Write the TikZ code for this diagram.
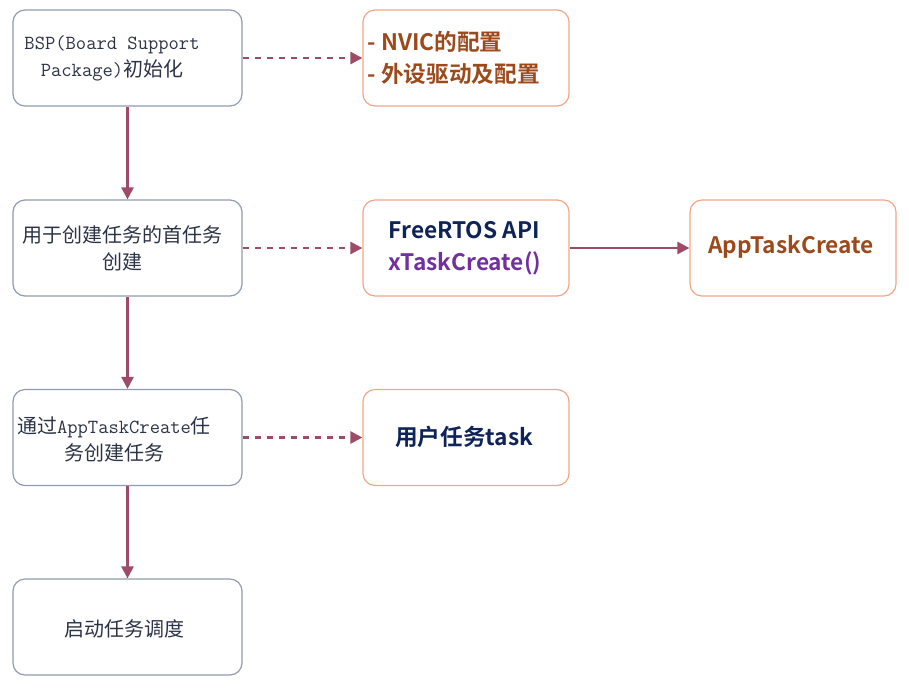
\documentclass[tikz,border=0pt]{standalone}
\usepackage{fontspec}
\newfontfamily\cjk{Noto Sans CJK SC}
\newfontfamily\cjkb{Noto Sans CJK SC Bold}
\usetikzlibrary{arrows.meta}
\definecolor{edgec}{HTML}{9E4B67}
\definecolor{lborder}{HTML}{8F9BB0}
\definecolor{rborder}{HTML}{F2A688}
\definecolor{brownc}{HTML}{9C4A1C}
\definecolor{navyc}{HTML}{0E2459}
\definecolor{purplec}{HTML}{7030A0}
\definecolor{ltext}{HTML}{2B3347}
\newcommand\zh[1]{{\cjk\fontsize{15}{20}\selectfont #1}}
\begin{document}
\begin{tikzpicture}[x=0.75pt,y=-0.75pt,
  lbox/.style={draw=lborder,line width=0.9pt,rounded corners=9pt,minimum width=171.75pt,minimum height=72pt,inner sep=0pt},
  rbox/.style={draw=rborder,line width=0.9pt,rounded corners=9pt,minimum width=154.5pt,minimum height=72pt,inner sep=0pt},
  ltxt/.style={text=ltext,font=\ttfamily\fontsize{15}{20}\selectfont,align=center},
  rtxt/.style={font=\cjkb\fontsize{17}{24}\selectfont},
  flow/.style={draw=edgec,line width=2pt,-{Triangle[length=9pt,width=9pt]}},
  dflow/.style={flow,dash pattern=on 5pt off 4pt}]
\useasboundingbox (0,0) rectangle (909,690);
% left column
\node[lbox] (b1) at (127.5,58) {};
\node[lbox] (b2) at (127.5,248) {};
\node[lbox] (b3) at (127.5,437.5) {};
\node[lbox] (b4) at (127.5,627) {};
\node[ltxt] (t1) at (112,58.5) {BSP(Board Support\\Package)\zh{初始化}};
\node[ltxt] (t2) at (122,248.5) {\zh{用于创建任务的首任务}\\\zh{创建}};
\node[ltxt] (t3) at (114,439.5) {\zh{通过}AppTaskCreate\zh{任}\\\zh{务创建任务}};
\node[ltxt] (t4) at (124,629) {\zh{启动任务调度}};
% right column
\node[rbox] (r1) at (466,58) {};
\node[rbox] (r2) at (466,248) {};
\node[rbox] (r3) at (466,437.5) {};
\node[rbox] (r4) at (793,248) {};
\node[rtxt,text=brownc,align=left,anchor=west] (s1) at (363,58) {- NVIC的配置\\- 外设驱动及配置};
\node[rtxt,align=left,anchor=west] (s2) at (384,248) {{\color{navyc}FreeRTOS API}\\{\color{purplec}xTaskCreate()}};
\node[rtxt,text=brownc] (s4) at (791,247) {AppTaskCreate};
\node[rtxt,text=navyc] (s3) at (464,437) {用户任务task};
% connectors
\draw[flow] (b1.south) -- (b2.north);
\draw[flow] (b2.south) -- (b3.north);
\draw[flow] (b3.south) -- (b4.north);
\draw[dflow] (b1.east) -- (r1.west);
\draw[dflow] (b2.east) -- (r2.west);
\draw[dflow] (b3.east) -- (r3.west);
\draw[flow] (r2.east) -- (r4.west);
\end{tikzpicture}
\end{document}
